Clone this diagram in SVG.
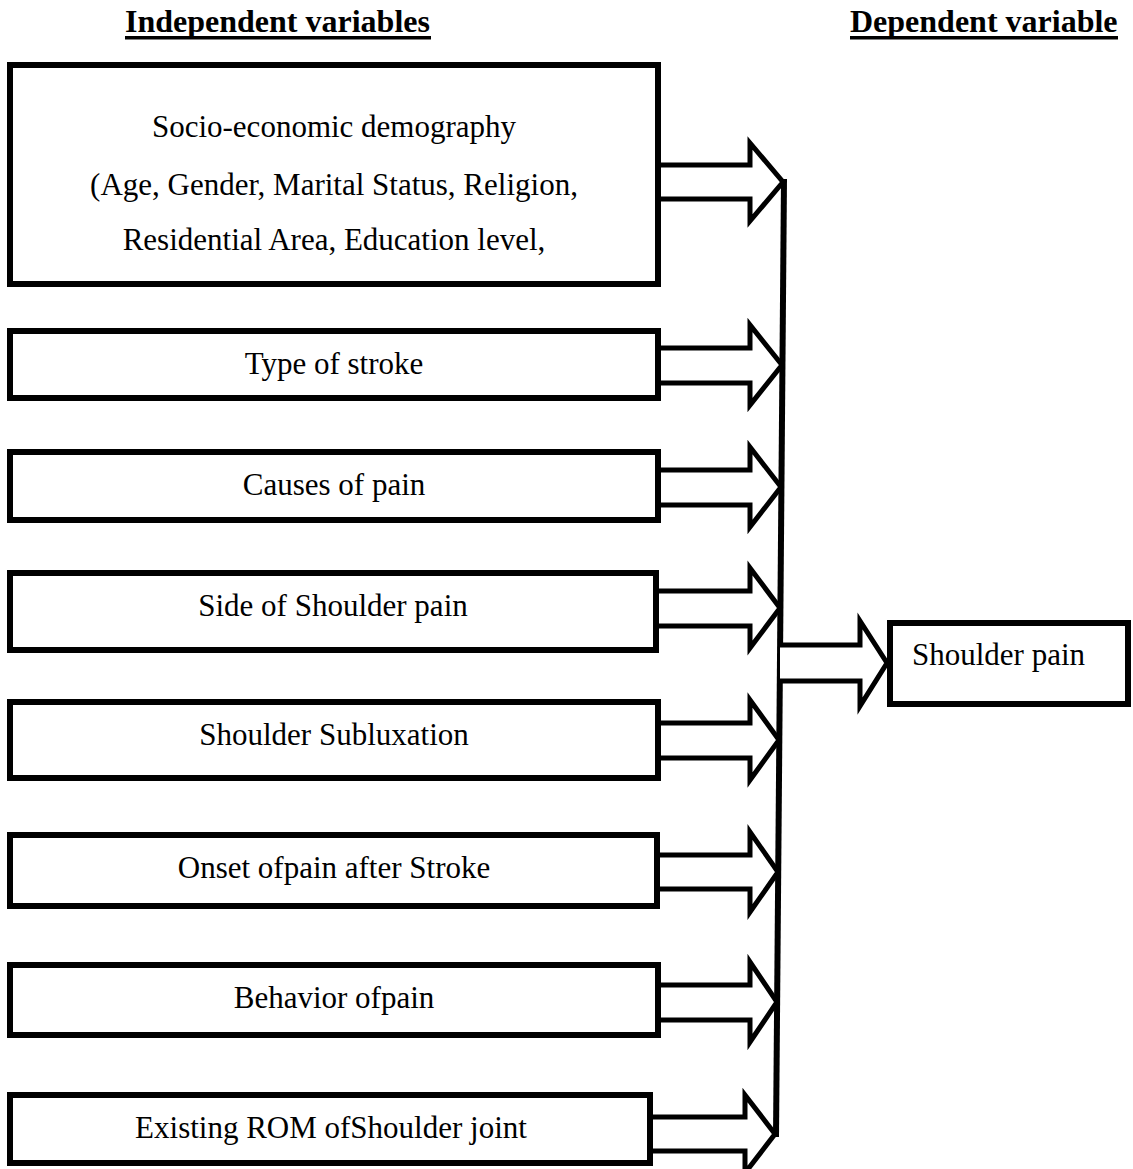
<svg xmlns="http://www.w3.org/2000/svg" width="1133" height="1169" viewBox="0 0 1133 1169">
  <style>
    .box { fill: #ffffff; stroke: #000000; stroke-width: 6; }
    .arrow { fill: #ffffff; stroke: #000000; stroke-width: 5; stroke-linejoin: miter; }
    .txt { font-family: "Liberation Serif", "Times New Roman", serif; font-size: 31px; fill: #000000; }
    .mid { text-anchor: middle; }
    .hdr { font-family: "Liberation Serif", "Times New Roman", serif; font-size: 32px; font-weight: bold; fill: #000000; }
  </style>
  <rect width="1133" height="1169" fill="#ffffff"/>

  <g id="header-independent">
    <text class="hdr" x="125" y="32">Independent variables</text>
    <rect x="125" y="36" width="306" height="3.5" fill="#000000"/>
  </g>
  <g id="header-dependent">
    <text class="hdr" x="850" y="32">Dependent variable</text>
    <rect x="850" y="36" width="268" height="3.5" fill="#000000"/>
  </g>

  <g id="connectors">
    <polyline class="arrow" points="656,165 750,165 750,143 783,182 750,221 750,199 656,199"/>
    <polyline class="arrow" points="656,348 750,348 750,325 782,365 750,405 750,383 656,383"/>
    <polyline class="arrow" points="656,470 750,470 750,447 781,487 750,527 750,505 656,505"/>
    <polyline class="arrow" points="654,591 750,591 750,568 780,608 750,648 750,626 654,626"/>
    <polyline class="arrow" points="656,723 750,723 750,700 779,740 750,780 750,758 656,758"/>
    <polyline class="arrow" points="655,855 750,855 750,832 778,872 750,912 750,889 655,889"/>
    <polyline class="arrow" points="656,985 750,985 750,962 777,1002 750,1042 750,1020 656,1020"/>
    <polyline class="arrow" points="648,1117 745,1117 745,1095 775,1134 745,1173 745,1151 648,1151"/>
    <line x1="784" y1="179" x2="776" y2="1137" stroke="#000000" stroke-width="6"/>
    <polyline class="arrow" points="780,645 860,645 860,621 887,663 860,706 860,681 780,681"/>
  </g>

  <g id="node-socio">
    <rect class="box" x="10" y="65" width="648" height="219"/>
    <text class="txt mid" x="334" y="137">Socio-economic demography</text>
    <text class="txt mid" x="334" y="195">(Age, Gender, Marital Status, Religion,</text>
    <text class="txt mid" x="334" y="250">Residential Area, Education level,</text>
  </g>
  <g id="node-type">
    <rect class="box" x="10" y="331" width="648" height="67"/>
    <text class="txt mid" x="334" y="374">Type of stroke</text>
  </g>
  <g id="node-causes">
    <rect class="box" x="10" y="452" width="648" height="68"/>
    <text class="txt mid" x="334" y="495">Causes of pain</text>
  </g>
  <g id="node-side">
    <rect class="box" x="10" y="573" width="646" height="77"/>
    <text class="txt mid" x="333" y="616">Side of Shoulder pain</text>
  </g>
  <g id="node-subluxation">
    <rect class="box" x="10" y="702" width="648" height="76"/>
    <text class="txt mid" x="334" y="745">Shoulder Subluxation</text>
  </g>
  <g id="node-onset">
    <rect class="box" x="10" y="835" width="647" height="71"/>
    <text class="txt mid" x="334" y="878">Onset ofpain after Stroke</text>
  </g>
  <g id="node-behavior">
    <rect class="box" x="10" y="965" width="648" height="70"/>
    <text class="txt mid" x="334" y="1008">Behavior ofpain</text>
  </g>
  <g id="node-rom">
    <rect class="box" x="10" y="1095" width="640" height="68"/>
    <text class="txt mid" x="331" y="1138">Existing ROM ofShoulder joint</text>
  </g>
  <g id="node-shoulder-pain">
    <rect class="box" x="890" y="623" width="238" height="81"/>
    <text class="txt" x="912" y="665">Shoulder pain</text>
  </g>
</svg>
